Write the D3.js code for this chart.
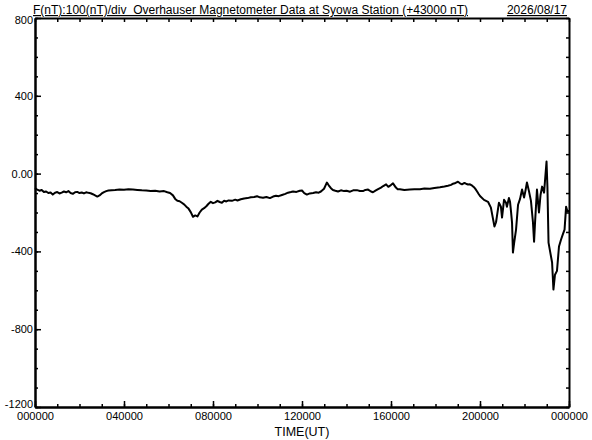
<!DOCTYPE html>
<html>
<head>
<meta charset="utf-8">
<script src="https://cdn.jsdelivr.net/npm/d3@7"></script>
<style>
  html, body { margin: 0; padding: 0; background: #fff; }
  svg { display: block; font-family: "Liberation Sans", Arial, sans-serif; }
  .pre { white-space: pre; }
</style>
</head>
<body>
<svg id="chart" width="592" height="440"></svg>
<script>
// ---- data ----
const titleText = "F(nT):100(nT)/div  Overhauser Magnetometer Data at Syowa Station (+43000 nT)";
const dateText = "2026/08/17";
const xLabel = "TIME(UT)";
const xTickHours = [0, 4, 8, 12, 16, 20, 24];
const xTickLabels = ["000000", "040000", "080000", "120000", "160000", "200000", "000000"];
const yTickValues = [800, 400, 0, -400, -800, -1200];
const yTickLabels = ["800", "400", "0.00", "-400", "-800", "-1200"];

// time in hours UT
const hours = [
  0.00, 0.10, 0.20, 0.30, 0.40, 0.50, 0.60, 0.70, 0.80, 0.90,
  1.00, 1.10, 1.20, 1.30, 1.40, 1.50, 1.60, 1.70, 1.80, 1.90,
  2.00, 2.10, 2.20, 2.30, 2.40, 2.50, 2.60, 2.70, 2.80, 2.90,
  3.00, 3.10, 3.20, 3.30, 3.45, 3.60, 3.80, 4.00, 4.20, 4.40,
  4.60, 4.80, 5.00, 5.20, 5.40, 5.60, 5.80, 5.95, 6.07, 6.20,
  6.30, 6.40, 6.50, 6.60, 6.70, 6.80, 6.90, 7.00, 7.10, 7.20,
  7.30, 7.40, 7.50, 7.60, 7.70, 7.80, 7.90, 8.00, 8.10, 8.20,
  8.30, 8.40, 8.50, 8.60, 8.70, 8.85, 9.00, 9.10, 9.25, 9.40,
  9.55, 9.70, 9.85, 9.98, 10.10, 10.25, 10.40, 10.56, 10.70, 10.83,
  10.95, 11.10, 11.25, 11.37, 11.50, 11.60, 11.75, 11.90, 12.00, 12.10,
  12.22, 12.35, 12.50, 12.63, 12.75, 12.85, 12.99, 13.07, 13.12, 13.20,
  13.30, 13.39, 13.50, 13.62, 13.75, 13.89, 14.00, 14.16, 14.30, 14.47,
  14.60, 14.74, 14.85, 14.97, 15.10, 15.19, 15.30, 15.42, 15.55, 15.65,
  15.78, 15.88, 15.96, 16.09, 16.22, 16.30, 16.40, 16.60, 16.85, 17.05,
  17.30, 17.50, 17.75, 17.95, 18.20, 18.40, 18.56, 18.70, 18.79, 18.90,
  19.01, 19.10, 19.19, 19.30, 19.37, 19.46, 19.55, 19.65, 19.73, 19.80,
  19.87, 19.94, 20.00,
  20.18, 20.36, 20.49, 20.58, 20.65, 20.72, 20.76, 20.85, 20.94, 20.99,
  21.08, 21.17, 21.21, 21.30, 21.35, 21.39, 21.44, 21.48, 21.53, 21.62,
  21.71, 21.80, 21.89, 21.98, 22.04, 22.11, 22.20, 22.29, 22.38, 22.43,
  22.47, 22.56, 22.65, 22.72, 22.79, 22.88, 22.94, 22.99, 23.03, 23.08,
  23.15, 23.24, 23.30, 23.37, 23.46, 23.55, 23.64, 23.73, 23.80, 23.87,
  23.93, 24.00
];
// total field minus 43000 nT
const values = [
  -75, -82, -88, -84, -95, -92, -100, -97, -108, -98,
  -95, -102, -98, -92, -96, -90, -100, -104, -96, -94,
  -100, -97, -102, -96, -99, -101, -106, -112, -118, -112,
  -102, -95, -90, -87, -85, -84, -82, -83, -80, -82,
  -84, -86, -87, -90, -88, -92, -90, -96, -100, -112,
  -130, -140, -142, -150, -158, -170, -180, -198, -222, -215,
  -220, -200, -185, -178, -168, -155, -145, -152, -148, -140,
  -146, -150, -140, -143, -138, -140, -134, -138, -132, -128,
  -126, -122, -120, -116, -122, -124, -120, -126, -118, -114,
  -116, -110, -104, -98, -95, -92, -94, -88, -87, -100,
  -108, -102, -100, -96, -98, -92, -78, -58, -46, -60,
  -75, -84, -88, -92, -86, -90, -88, -93, -86, -85,
  -89, -90, -84, -82, -92, -96, -88, -80, -72, -64,
  -55, -68, -62, -50, -72, -80, -80, -84, -82, -80,
  -80, -77, -78, -74, -70, -66, -62, -58, -52, -48,
  -42, -50, -55, -48, -52, -56, -55, -62, -70, -80,
  -92, -105, -115,
  -135, -145, -175, -230, -272, -250, -220, -150, -170, -226,
  -135, -150, -170, -125, -145, -190, -252, -406, -360, -288,
  -160, -130, -82, -123, -90, -46, -90, -140, -250, -350,
  -260, -82, -200, -110, -67, -98, -10, 62, -67, -355,
  -400, -457, -596, -520, -500, -375, -340, -310, -288, -170,
  -195, -190
];

// ---- chart ----
const svg = d3.select("#chart");
const L = 35, R = 569, T = 18, B = 407;
const x = d3.scaleLinear().domain([0, 24]).range([L, R]);
const y = d3.scaleLinear().domain([-1200, 800]).range([B, T]);

const minorX = d3.range(0, 25, 1);
const minorY = d3.range(-1200, 801, 100);

// data line
const n = Math.min(hours.length, values.length);
const data = d3.range(n).map(i => ({ h: hours[i], v: values[i] }));
svg.append("path")
  .datum(data)
  .attr("fill", "none")
  .attr("stroke", "#000")
  .attr("stroke-width", 2)
  .attr("stroke-linejoin", "round")
  .attr("d", d3.line().x(d => x(d.h)).y(d => y(d.v)));

function styleAxis(g) {
  g.selectAll("path.domain").attr("stroke", "#000").attr("stroke-width", 2);
  g.selectAll(".tick line").attr("stroke", "#000").attr("stroke-width", 1.5);
}

// left axis: ticks inward, labels outside
svg.append("g").attr("transform", `translate(${L},0)`)
  .call(d3.axisLeft(y).tickValues(minorY).tickSizeInner(-3).tickSizeOuter(0).tickFormat(""))
  .call(styleAxis);
const yAx = svg.append("g").attr("transform", `translate(${L},0)`)
  .call(d3.axisLeft(y).tickValues(yTickValues).tickSizeInner(-6).tickSizeOuter(0).tickPadding(2)
    .tickFormat((d, i) => yTickLabels[i]))
  .call(styleAxis);
yAx.selectAll("text").attr("font-size", 11).attr("fill", "#000")
  .attr("font-family", "'Liberation Sans', Arial, sans-serif")
  .attr("y", d => d === 800 ? 2 : (d === -1200 ? -3 : 0));

// right axis
svg.append("g").attr("transform", `translate(${R},0)`)
  .call(d3.axisRight(y).tickValues(minorY).tickSizeInner(-3).tickSizeOuter(0).tickFormat(""))
  .call(styleAxis);

// bottom axis
svg.append("g").attr("transform", `translate(0,${B})`)
  .call(d3.axisBottom(x).tickValues(minorX).tickSizeInner(-3).tickSizeOuter(0).tickFormat(""))
  .call(styleAxis);
const xAx = svg.append("g").attr("transform", `translate(0,${B})`)
  .call(d3.axisBottom(x).tickValues(xTickHours).tickSizeInner(-6).tickSizeOuter(0).tickPadding(6)
    .tickFormat((d, i) => xTickLabels[i]))
  .call(styleAxis);
xAx.selectAll("text").attr("font-size", 10).attr("fill", "#000")
  .attr("font-family", "'Liberation Sans', Arial, sans-serif")
  .attr("textLength", 37).attr("lengthAdjust", "spacingAndGlyphs");

// top axis
svg.append("g").attr("transform", `translate(0,${T})`)
  .call(d3.axisTop(x).tickValues(minorX).tickSizeInner(-4).tickSizeOuter(0).tickFormat(""))
  .call(styleAxis);

// titles
svg.append("text")
  .attr("class", "pre")
  .attr("x", 33).attr("y", 14)
  .attr("font-size", 12)
  .attr("text-decoration", "underline")
  .attr("textLength", 435).attr("lengthAdjust", "spacingAndGlyphs")
  .text(titleText);
svg.append("text")
  .attr("x", 567).attr("y", 14)
  .attr("text-anchor", "end")
  .attr("font-size", 12)
  .attr("text-decoration", "underline")
  .text(dateText);
svg.append("text")
  .attr("x", (L + R) / 2).attr("y", 436)
  .attr("text-anchor", "middle")
  .attr("font-size", 12.5)
  .text(xLabel);
</script>
</body>
</html>
